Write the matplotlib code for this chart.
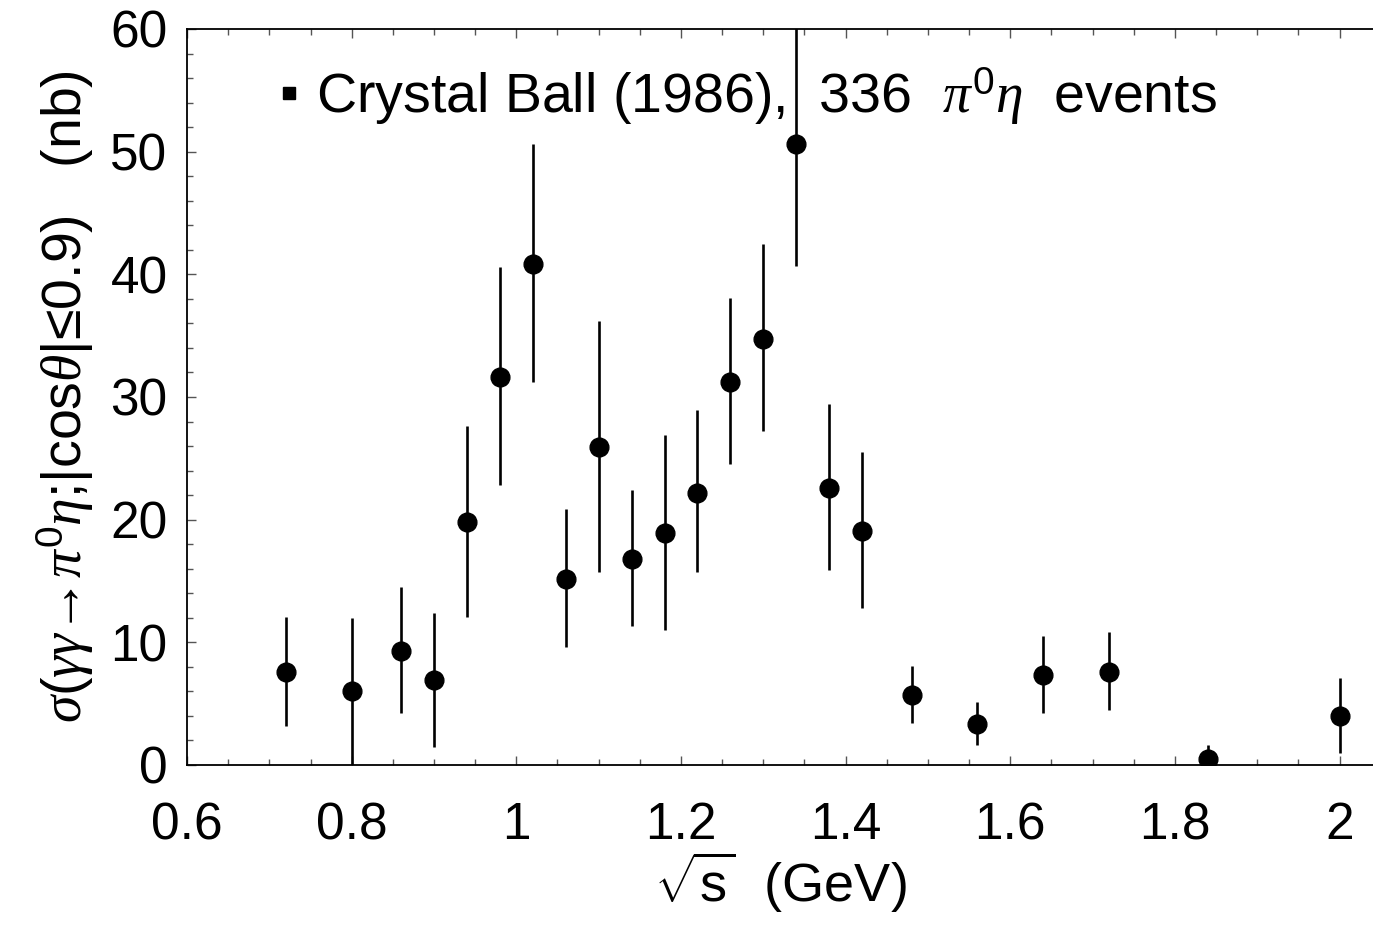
"""Crystal Ball (1986) gamma gamma -> pi0 eta cross section vs sqrt(s)."""
import matplotlib
matplotlib.use("Agg")
import matplotlib.pyplot as plt
from matplotlib.lines import Line2D
from matplotlib.ticker import MultipleLocator

plt.rcParams["font.family"] = ["Liberation Sans", "DejaVu Sans"]
plt.rcParams["mathtext.fontset"] = "custom"
plt.rcParams["mathtext.rm"] = "Liberation Sans"
plt.rcParams["mathtext.it"] = "Liberation Serif:italic"
plt.rcParams["mathtext.bf"] = "Liberation Sans:bold"

# sqrt(s) in GeV
sqrt_s = [0.72, 0.80, 0.86, 0.90, 0.94, 0.98, 1.02, 1.06, 1.10, 1.14, 1.18,
          1.22, 1.26, 1.30, 1.34, 1.38, 1.42, 1.48, 1.56, 1.64, 1.72, 1.84, 2.00]
# cross section (nb)
sigma = [7.6, 6.0, 9.3, 6.9, 19.8, 31.6, 40.8, 15.2, 25.9, 16.8, 18.9,
         22.2, 31.2, 34.7, 50.6, 22.6, 19.1, 5.7, 3.3, 7.3, 7.6, 0.5, 4.0]
# upper / lower ends of the error bars (nb)
err_hi = [12.1, 12.0, 14.5, 12.4, 27.6, 40.6, 50.6, 20.9, 36.2, 22.4, 26.9,
          28.9, 38.1, 42.5, 61.0, 29.4, 25.5, 8.1, 5.1, 10.5, 10.8, 1.6, 7.1]
err_lo = [3.2, 0.0, 4.2, 1.5, 12.1, 22.8, 31.2, 9.6, 15.7, 11.3, 11.0,
          15.7, 24.5, 27.2, 40.7, 15.9, 12.8, 3.4, 1.6, 4.2, 4.5, -0.5, 1.0]

LEGEND_TEXT = r"Crystal Ball (1986),  336  $\pi^{0}\eta$  events"
YLABEL = r"$\sigma(\gamma\gamma$→$\pi^{0}\eta$;|cos$\theta$|≤0.9)   (nb)"
XLABEL = r"$\sqrt{\mathrm{s}}$  (GeV)"


def main():
    fig = plt.figure(figsize=(13.73, 9.26), dpi=100)
    ax = fig.add_axes([0.1362, 0.1739, 0.8638, 0.7948])

    yerr = [[s - lo for s, lo in zip(sigma, err_lo)],
            [hi - s for s, hi in zip(sigma, err_hi)]]
    ax.errorbar(sqrt_s, sigma, yerr=yerr, fmt="o", color="black",
                markersize=13.5, elinewidth=1.9, capsize=0)

    ax.set_xlim(0.6, 2.0405)
    ax.set_ylim(0, 60)
    ax.xaxis.set_major_locator(MultipleLocator(0.2))
    ax.xaxis.set_minor_locator(MultipleLocator(0.05))
    ax.yaxis.set_major_locator(MultipleLocator(10))
    ax.yaxis.set_minor_locator(MultipleLocator(2))
    ax.xaxis.set_major_formatter(
        plt.FuncFormatter(lambda v, _: f"{v:.1f}".rstrip("0").rstrip(".")))

    ax.spines["right"].set_visible(False)
    for side in ("left", "bottom", "top"):
        ax.spines[side].set_linewidth(1.3)
    ax.tick_params(which="both", direction="in", top=True, right=False,
                   labelsize=37, color="#555555", width=1.0)
    ax.tick_params(which="major", length=6.5)
    ax.tick_params(which="minor", length=4)
    ax.tick_params(axis="y", which="major", pad=14)
    ax.tick_params(axis="x", which="major", pad=26)

    ax.set_xlabel(XLABEL, fontsize=39, labelpad=0)
    ax.set_ylabel(YLABEL, fontsize=40, labelpad=10)

    handle = Line2D([], [], marker="s", color="black", linestyle="none",
                    markersize=8.5)
    ax.legend([handle], [LEGEND_TEXT], loc="center left",
              bbox_to_anchor=(0.074, 0.909), frameon=False, fontsize=40,
              handlelength=0.5, handletextpad=0.25, borderpad=0,
              borderaxespad=0)

    fig.savefig("out.png", dpi=100)


if __name__ == "__main__":
    main()
